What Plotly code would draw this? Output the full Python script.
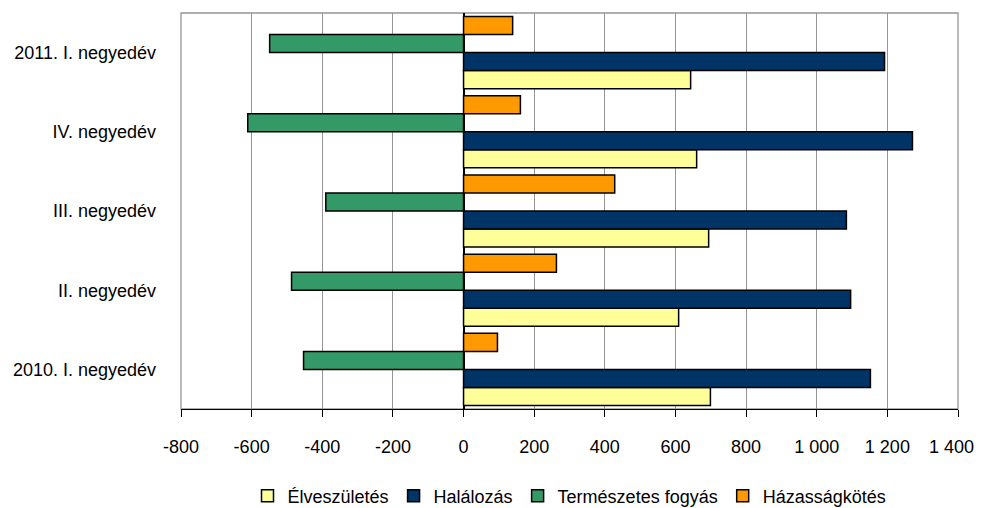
import plotly.graph_objects as go

categories = ["2010. I. negyedév", "II. negyedév", "III. negyedév", "IV. negyedév", "2011. I. negyedév"]
elveszuletes = [699, 609, 694, 660, 643]
halalozas = [1152, 1096, 1084, 1271, 1192]
termeszetes_fogyas = [-453, -487, -390, -611, -549]
hazassagkotes = [96, 263, 428, 161, 139]

series_names = ["Élveszületés", "Halálozás", "Természetes fogyás", "Házasságkötés"]
series_values = [elveszuletes, halalozas, termeszetes_fogyas, hazassagkotes]
series_colors = ["#FFFF99", "#003366", "#339966", "#FF9900"]

x_tick_vals = [-800, -600, -400, -200, 0, 200, 400, 600, 800, 1000, 1200, 1400]
x_tick_labels = ["-800", "-600", "-400", "-200", "0", "200", "400", "600", "800", "1 000", "1 200", "1 400"]
boundary_vals = [-0.5, 0.5, 1.5, 2.5, 3.5, 4.5]

FONT = "Liberation Sans, Arial, sans-serif"

fig = go.Figure()
for name, vals, col in zip(series_names, series_values, series_colors):
    fig.add_trace(go.Bar(
        y=categories, x=vals, name=name, orientation="h",
        marker=dict(color=col, line=dict(color="black", width=1.5)),
    ))

# the last tick label sits at the window edge: draw it as an annotation nudged inward
axis_ticktext = x_tick_labels[:-1] + [""]

# the page body has an 8px margin, so the figure is sized/offset to fit the window
fig.update_layout(
    width=975, height=500,
    margin=dict(l=173, r=25, t=5, b=99, autoexpand=False),
    paper_bgcolor="white", plot_bgcolor="white",
    barmode="group", bargap=0.09, bargroupgap=0,
    font=dict(family=FONT, size=18, color="black"),
    showlegend=True,
    legend=dict(orientation="h", x=0.5, xanchor="center", y=-0.22, yanchor="middle",
                font=dict(family=FONT, size=18, color="black"), traceorder="normal",
                itemwidth=30),
    xaxis=dict(range=[-800, 1400], tickvals=x_tick_vals, ticktext=axis_ticktext,
               showgrid=True, gridcolor="#959595", gridwidth=1.3,
               zeroline=True, zerolinecolor="black", zerolinewidth=1.5,
               showline=True, linecolor="black", linewidth=1.2,
               ticks="outside", ticklen=7, tickcolor="black", tickwidth=1.2,
               ticklabelstandoff=14, automargin=False, fixedrange=True),
    yaxis=dict(type="category", categoryorder="array", categoryarray=categories,
               range=[-0.5, 4.5], showgrid=False, zeroline=False, showline=False,
               ticks="", ticklabelstandoff=24, automargin=False, fixedrange=True),
    yaxis2=dict(overlaying="y", anchor="free", position=800 / 2200,
                range=[-0.5, 4.5], tickvals=boundary_vals, showticklabels=False,
                ticks="outside", ticklen=7, tickcolor="black", tickwidth=1.2,
                showgrid=False, zeroline=False, showline=False, automargin=False,
                fixedrange=True),
    shapes=[dict(type="rect", xref="paper", yref="paper", x0=0, x1=1, y0=0, y1=1,
                 line=dict(color="#959595", width=1.3), layer="below")],
    annotations=[dict(x=x_tick_vals[-1], xref="x", y=0, yref="paper",
                      text=x_tick_labels[-1], showarrow=False,
                      xanchor="center", yanchor="middle", xshift=-7, yshift=-38,
                      font=dict(family=FONT, size=18, color="black"))],
)

fig.write_html("out.html")
